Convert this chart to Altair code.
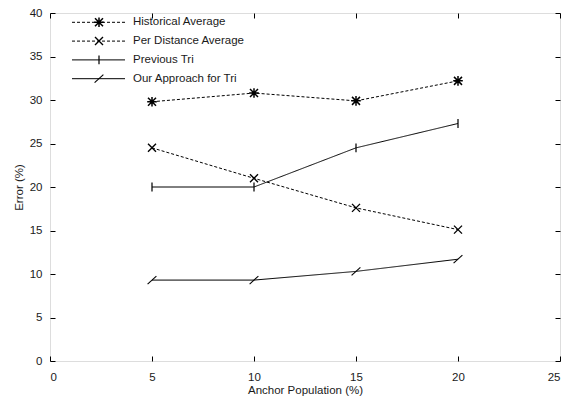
import altair as alt
import pandas as pd

# ---- data ----
x_vals = [5, 10, 15, 20]
historical = [29.8, 30.8, 29.9, 32.2]
per_distance = [24.5, 21.0, 17.6, 15.1]
previous_tri = [20.0, 20.0, 24.5, 27.3]
our_approach = [9.3, 9.3, 10.3, 11.7]
series_names = ["Historical Average", "Per Distance Average", "Previous Tri", "Our Approach for Tri"]
x_ticks = [0, 5, 10, 15, 20, 25]
y_ticks = [0, 5, 10, 15, 20, 25, 30, 35, 40]

rows = []
for name, vals in zip(series_names, [historical, per_distance, previous_tri, our_approach]):
    for xv, yv in zip(x_vals, vals):
        rows.append({"pop": xv, "err": yv, "series": name})
df = pd.DataFrame(rows)
legend_df = pd.DataFrame({"series": series_names})

# ---- styling ----
W, H = 510, 348
FONT = "Liberation Sans"
FS = 11.5
TXT = "#1a1a1a"
shape_paths = [
    "M-1,-1L1,1M-1,1L1,-1M0,-1.2L0,1.2M-1.2,0L1.2,0",
    "M-1,-1L1,1M-1,1L1,-1",
    "M0,-1.1L0,1.1",
    "M-1.1,1L1.1,-1",
]
stroke_widths = [1.5, 1.1, 1.1, 1.1]
dashes = [[3, 2], [3, 2], [1, 0], [1, 0]]

xscale = alt.Scale(domain=[0, 25], nice=False, zero=False)
yscale = alt.Scale(domain=[0, 40], nice=False, zero=True)
shape_scale = alt.Scale(domain=series_names, range=shape_paths)
dash_scale = alt.Scale(domain=series_names, range=dashes)
width_scale = alt.Scale(domain=series_names, range=stroke_widths)


def legend_y():
    return alt.Y("series:N", scale=alt.Scale(type="point", domain=series_names,
                                             range=[9.3, 65.7], padding=0), axis=None)


def tick_axis(orient):
    return alt.Axis(orient=orient, offset=-5, values=x_ticks if orient in ("top", "bottom") else y_ticks,
                    labels=False, domain=False, ticks=True, tickSize=5, tickColor="black",
                    tickWidth=1, title=None, grid=False)


lines = alt.Chart(df).mark_line(color="black", strokeWidth=1).encode(
    x=alt.X("pop:Q", scale=xscale, axis=alt.Axis(
        orient="bottom", values=x_ticks, title="Anchor Population (%)", domain=False,
        ticks=False, tickSize=0, labelPadding=10, titlePadding=2, grid=False,
        labelFont=FONT, labelFontSize=FS, labelColor=TXT, titleFont=FONT,
        titleFontSize=FS, titleFontWeight="normal", titleColor=TXT)),
    y=alt.Y("err:Q", scale=yscale, axis=alt.Axis(
        orient="left", values=y_ticks, title="Error (%)", domain=False,
        ticks=False, tickSize=0, labelPadding=8, titlePadding=5, grid=False,
        labelFont=FONT, labelFontSize=FS, labelColor=TXT, titleFont=FONT,
        titleFontSize=FS, titleFontWeight="normal", titleColor=TXT)),
    strokeDash=alt.StrokeDash("series:N", scale=dash_scale, legend=None),
)

points = alt.Chart(df).mark_point(filled=False, color="black", size=64, opacity=1).encode(
    x=alt.X("pop:Q", scale=xscale, axis=tick_axis("bottom")),
    y=alt.Y("err:Q", scale=yscale, axis=tick_axis("left")),
    shape=alt.Shape("series:N", scale=shape_scale, legend=None),
    strokeWidth=alt.StrokeWidth("series:N", scale=width_scale, legend=None),
)

ghost = alt.Chart(df).mark_point(opacity=0).encode(
    x=alt.X("pop:Q", scale=xscale, axis=tick_axis("top")),
    y=alt.Y("err:Q", scale=yscale, axis=tick_axis("right")),
)

# ---- legend drawn inside the plot, top-left ----
legend_lines = alt.Chart(legend_df).mark_rule(color="black", strokeWidth=1).encode(
    x=alt.value(22), x2=alt.value(75), y=legend_y(),
    strokeDash=alt.StrokeDash("series:N", scale=dash_scale, legend=None),
)
legend_marks = alt.Chart(legend_df).mark_point(filled=False, color="black", size=64, opacity=1).encode(
    x=alt.value(49), y=legend_y(),
    shape=alt.Shape("series:N", scale=shape_scale, legend=None),
    strokeWidth=alt.StrokeWidth("series:N", scale=width_scale, legend=None),
)
legend_text = alt.Chart(legend_df).mark_text(
    align="left", baseline="middle", font=FONT, fontSize=FS, color=TXT
).encode(x=alt.value(83), y=legend_y(), text="series:N")

chart = alt.layer(lines, points, ghost, legend_lines, legend_marks, legend_text).resolve_scale(
    y="independent"
).resolve_axis(
    x="independent", y="independent"
).properties(
    width=W, height=H,
    autosize=alt.AutoSizeParams(type="none"),
    padding={"left": 42, "top": 5, "right": 7, "bottom": 35},
).configure_view(stroke="black", strokeWidth=1).configure(background="white")

chart.save("out.html", embed_options={"renderer": "svg", "actions": False})
